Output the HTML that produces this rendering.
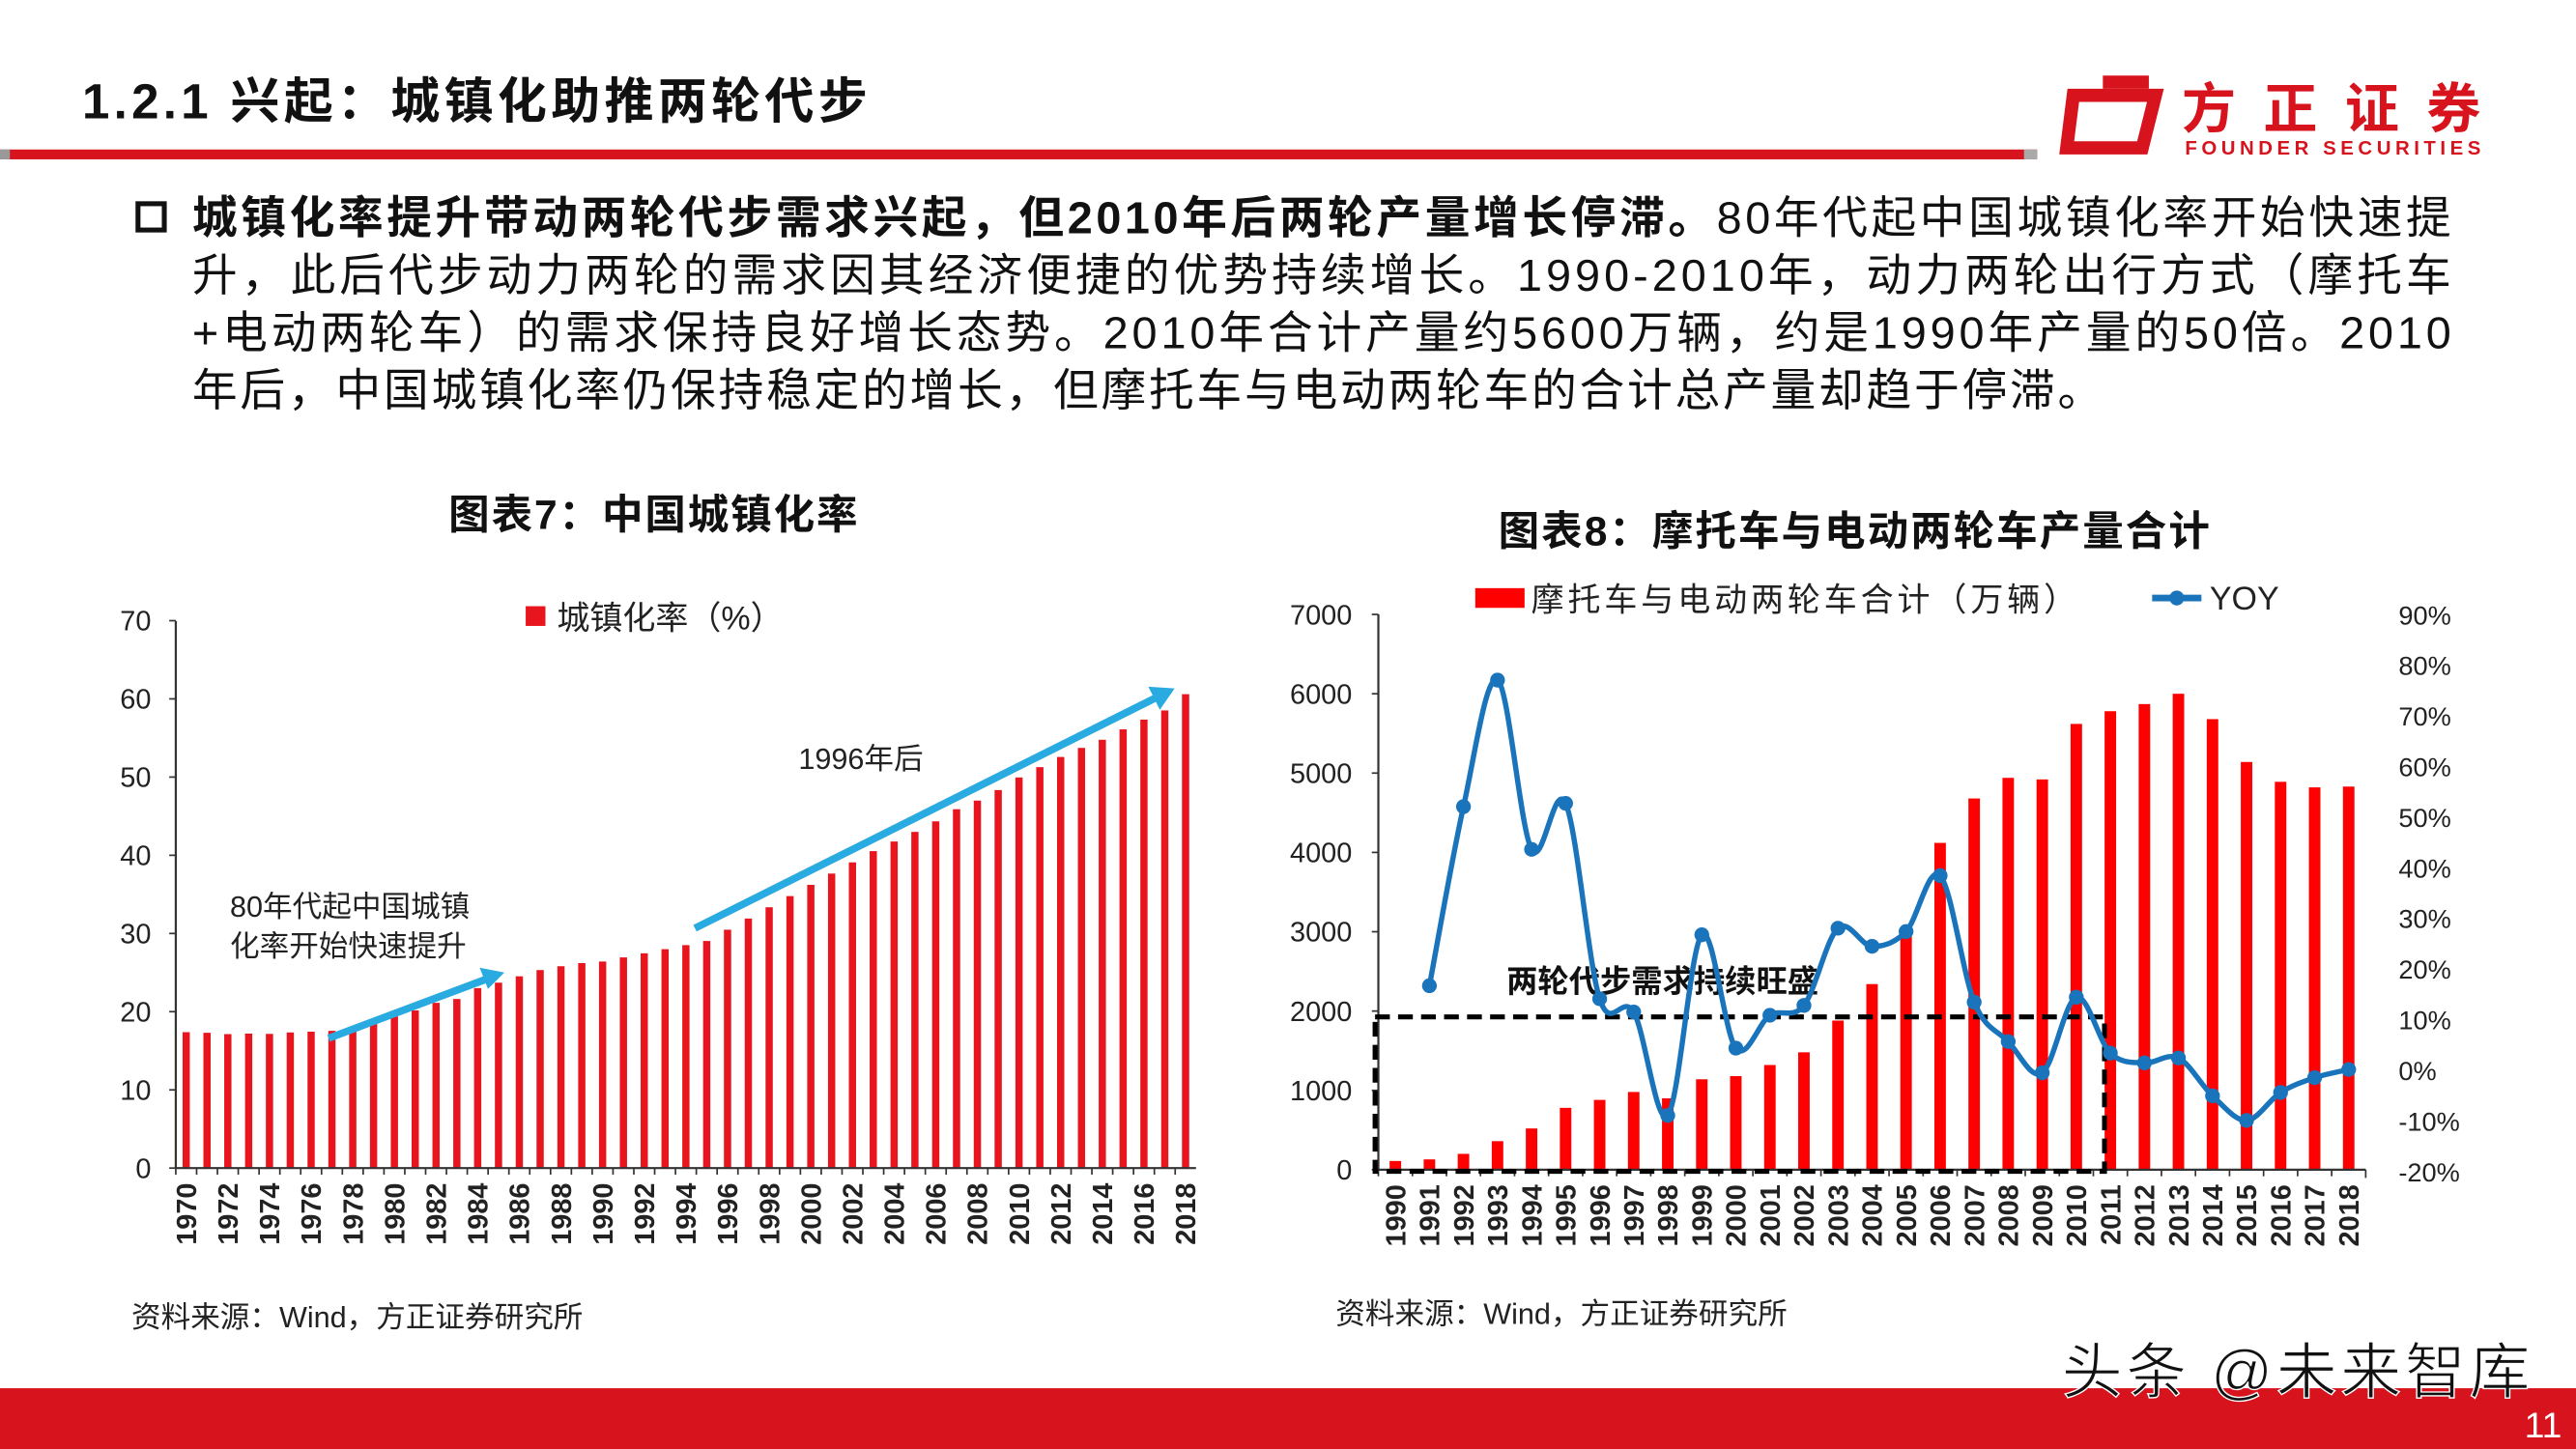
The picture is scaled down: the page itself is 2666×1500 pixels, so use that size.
<!DOCTYPE html>
<html><head><meta charset="utf-8">
<style>
html,body{margin:0;padding:0;background:#fff;}
svg{display:block;}
text{font-family:"Liberation Sans","Noto Sans CJK SC",sans-serif;}
</style></head>
<body>
<svg id="s" width="2666" height="1500" viewBox="0 0 1568 882" preserveAspectRatio="none" xmlns="http://www.w3.org/2000/svg">
<rect width="1568" height="882" fill="#fff"/>
<text x="50" y="72" font-size="30" font-weight="bold" fill="#111" textLength="478">1.2.1 兴起：城镇化助推两轮代步</text>
<rect x="0" y="91" width="1240" height="6" fill="#d7141e"/>
<rect x="0" y="91" width="6" height="6" fill="#999"/>
<rect x="1232" y="91" width="8" height="6" fill="#aaa"/>
<path d="M1262 58 L1312 58 L1304 90 L1258 90 Z" fill="none" stroke="#d7141e" stroke-width="8"/>
<rect x="1280" y="46" width="28" height="8" fill="#d7141e"/>
<text x="1328" y="78" font-size="33" font-weight="bold" fill="#d7141e" textLength="182">方正证券</text>
<text x="1330" y="94" font-size="12" font-weight="bold" fill="#d7141e" textLength="180">FOUNDER SECURITIES</text>
<rect x="84" y="124" width="16" height="16" fill="none" stroke="#111" stroke-width="3"/>
<g font-size="27.5" fill="#111">
<text x="117" y="142" textLength="1375"><tspan font-weight="bold">城镇化率提升带动两轮代步需求兴起，但2010年后两轮产量增长停滞。</tspan>80年代起中国城镇化率开始快速提</text>
<text x="117" y="177" textLength="1375">升，此后代步动力两轮的需求因其经济便捷的优势持续增长。1990-2010年，动力两轮出行方式（摩托车</text>
<text x="117" y="212" textLength="1375">+电动两轮车）的需求保持良好增长态势。2010年合计产量约5600万辆，约是1990年产量的50倍。2010</text>
<text x="117" y="247" textLength="1163">年后，中国城镇化率仍保持稳定的增长，但摩托车与电动两轮车的合计总产量却趋于停滞。</text>
</g>
<text x="273" y="322" font-size="25" font-weight="bold" fill="#111" textLength="249">图表7：中国城镇化率</text>
<rect x="320" y="369" width="12" height="12" fill="#e8141e"/>
<text x="339" y="383" font-size="20" fill="#222">城镇化率（%）</text>
<g id="c1"></g>
<text x="140" y="558" font-size="18" fill="#222">80年代起中国城镇</text>
<text x="140" y="582" font-size="18" fill="#222">化率开始快速提升</text>
<text x="486" y="468" font-size="18" fill="#222">1996年后</text>
<g stroke="#29abe2" stroke-width="4.5" fill="#29abe2">
<line x1="200" y1="632" x2="296" y2="596"/>
<polygon points="307,592 292,589 297,602" stroke="none"/>
<line x1="423" y1="565" x2="703" y2="425"/>
<polygon points="715,419 699,418 706,432" stroke="none"/>
</g>
<text x="80" y="808" font-size="18" fill="#222">资料来源：Wind，方正证券研究所</text>
<text x="912" y="332" font-size="25" font-weight="bold" fill="#111" textLength="433">图表8：摩托车与电动两轮车产量合计</text>
<rect x="898" y="358" width="30" height="12" fill="#ff0000"/>
<text x="932" y="372" font-size="20" fill="#222" textLength="332">摩托车与电动两轮车合计（万辆）</text>
<line x1="1310" y1="364" x2="1340" y2="364" stroke="#1a74bb" stroke-width="4"/>
<circle cx="1325" cy="364" r="4.5" fill="#1a74bb"/>
<text x="1345" y="371" font-size="20" fill="#222">YOY</text>
<g id="c2"></g>
<text x="813" y="806" font-size="18" fill="#222">资料来源：Wind，方正证券研究所</text>
<rect x="0" y="845" width="1568" height="37" fill="#d7141e"/>
<text x="1548" y="875" font-size="22" fill="#fff" text-anchor="middle">11</text>
<text x="1255" y="848" font-size="37" fill="#111" stroke="#fff" stroke-width="0.8" textLength="285">头条 @未来智库</text>
</svg>
<script>
var NS="http://www.w3.org/2000/svg";
function el(p,t,a,txt){var e=document.createElementNS(NS,t);for(var k in a)e.setAttribute(k,a[k]);if(txt!==undefined)e.textContent=txt;p.appendChild(e);return e;}
var c1=document.getElementById('c1');
var u=[17.38,17.30,17.13,17.20,17.16,17.34,17.44,17.55,17.92,18.96,19.39,20.16,21.13,21.62,23.01,23.71,24.52,25.32,25.81,26.21,26.41,26.94,27.46,27.99,28.51,29.04,30.48,31.91,33.35,34.78,36.22,37.66,39.09,40.53,41.76,42.99,44.34,45.89,46.99,48.34,49.95,51.27,52.57,53.73,54.77,56.10,57.35,58.52,60.6];
var x0=107,x1=728,y0=711,ys=4.76,n=u.length,sp=(x1-x0)/n;
for(var i=0;i<n;i++){var cx=x0+sp*(i+0.5);el(c1,'rect',{x:cx-2.2,y:y0-u[i]*ys,width:4.4,height:u[i]*ys,fill:'#e8141e'});
 if(i%2==0){el(c1,'text',{x:0,y:0,'font-size':17,'font-weight':'bold',fill:'#222','text-anchor':'end',transform:'translate('+(cx+6)+','+(y0+9)+') rotate(-90)'},String(1970+i));}
 el(c1,'line',{x1:x0+sp*i,y1:y0,x2:x0+sp*i,y2:y0+4,stroke:'#333','stroke-width':1});}
el(c1,'line',{x1:x0,y1:y0,x2:x1,y2:y0,stroke:'#333','stroke-width':1.3});
el(c1,'line',{x1:x0,y1:378,x2:x0,y2:y0,stroke:'#333','stroke-width':1.3});
for(var v=0;v<=70;v+=10){var y=y0-v*ys;el(c1,'line',{x1:x0-4,y1:y,x2:x0,y2:y,stroke:'#333'});el(c1,'text',{x:92,y:y+6,'font-size':17,'text-anchor':'end',fill:'#222'},String(v));}
var c2=document.getElementById('c2');
var b=[110,130,200,360,520,780,880,980,900,1140,1180,1320,1480,1880,2340,3000,4120,4680,4940,4920,5620,5780,5870,6000,5680,5140,4890,4820,4830];
var X0=839,X1=1440,Y0=712,S=(712-374)/7000,N=b.length,SP=(X1-X0)/N;
for(var i=0;i<N;i++){var cx=X0+SP*(i+0.5);el(c2,'rect',{x:cx-3.5,y:Y0-b[i]*S,width:7,height:b[i]*S,fill:'#ff0000'});
 el(c2,'text',{x:0,y:0,'font-size':17,'font-weight':'bold',fill:'#222','text-anchor':'end',transform:'translate('+(cx+6)+','+(Y0+9)+') rotate(-90)'},String(1990+i));
 el(c2,'line',{x1:X0+SP*i,y1:Y0,x2:X0+SP*i,y2:Y0+4,stroke:'#333'});}
el(c2,'line',{x1:X0,y1:Y0,x2:X1,y2:Y0,stroke:'#333','stroke-width':1.3});
el(c2,'line',{x1:X1,y1:Y0,x2:X1,y2:Y0+5,stroke:'#333'});
el(c2,'line',{x1:X0,y1:374,x2:X0,y2:Y0,stroke:'#333','stroke-width':1.3});
for(var v=0;v<=7000;v+=1000){var y=Y0-v*S;el(c2,'line',{x1:X0-4,y1:y,x2:X0,y2:y,stroke:'#333'});el(c2,'text',{x:823,y:y+6,'font-size':17,'text-anchor':'end',fill:'#222'},String(v));}
var pl=['90%','80%','70%','60%','50%','40%','30%','20%','10%','0%','-10%','-20%'];
for(var k=0;k<12;k++){var y=374+k*(339/11);el(c2,'text',{x:1460,y:y+6,'font-size':16,fill:'#222'},pl[k]);}
el(c2,'rect',{x:837,y:619,width:444,height:94,fill:'none',stroke:'#000','stroke-width':3,'stroke-dasharray':'9,5'});
el(c2,'text',{x:917,y:604,'font-size':19,'font-weight':'bold',fill:'#111'},'两轮代步需求持续旺盛');
var yy=[600,491,414,517,489,608,616,679,569,638,618,612,565,576,567,533,610,634,653,607,641,647,644,667,682,665,656,651];
var P=[];for(var i=0;i<yy.length;i++)P.push([X0+SP*(i+1.5),yy[i]]);
var d='M'+P[0][0]+' '+P[0][1];
for(var i=0;i<P.length-1;i++){var p0=P[i-1]||P[i],p1=P[i],p2=P[i+1],p3=P[i+2]||p2;var t=1/6;
 d+=' C'+(p1[0]+(p2[0]-p0[0])*t)+' '+(p1[1]+(p2[1]-p0[1])*t)+' '+(p2[0]-(p3[0]-p1[0])*t)+' '+(p2[1]-(p3[1]-p1[1])*t)+' '+p2[0]+' '+p2[1];}
el(c2,'path',{d:d,fill:'none',stroke:'#1a74bb','stroke-width':3.2});
for(var i=0;i<P.length;i++)el(c2,'circle',{cx:P[i][0],cy:P[i][1],r:4.5,fill:'#1a74bb'});
</script>
</body></html>
